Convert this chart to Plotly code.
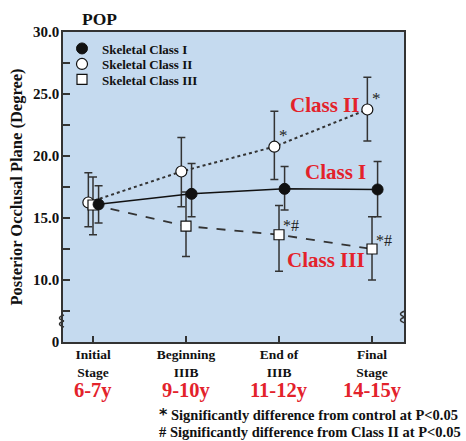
import plotly.graph_objects as go

# ---------------- data ----------------
stages = ["Initial<br>Stage", "Beginning<br>IIIB", "End of<br>IIIB", "Final<br>Stage"]
ages = ["6-7y", "9-10y", "11-12y", "14-15y"]

class1_mean = [16.1, 16.95, 17.35, 17.3]
class1_top = [17.6, 19.4, 19.15, 19.55]
class1_bottom = [14.6, 15.1, 15.65, 15.1]

class2_mean = [16.25, 18.75, 20.75, 23.75]
class2_top = [18.65, 21.5, 23.6, 26.35]
class2_bottom = [14.3, 15.9, 18.1, 21.2]

class3_mean = [16.05, 14.35, 13.65, 12.5]
class3_top = [18.3, 17.1, 16.0, 15.1]
class3_bottom = [13.65, 11.9, 10.7, 10.0]

sig_class2 = ["", "", "*", "*"]
sig_class3 = ["", "", "*#", "*#"]

y_tickvals = [5, 10, 15, 20, 25, 30]
y_ticktext = ["0", "10.0", "15.0", "20.0", "25.0", "30.0"]
y_minor = [7.5, 12.5, 17.5, 22.5, 27.5]

footnotes = [
    ("*", "Significantly difference from control at P<0.05"),
    ("#", "Significantly difference from Class II at P<0.05"),
]

# ---------------- layout helpers ----------------
W, H = 466, 441
L, R, T, B = 63, 62, 32, 99
PW, PH = W - L - R, H - T - B


def px(x):
    return (x - L) / PW


def py(y):
    return (H - B - y) / PH


SERIF = "Liberation Serif, Times New Roman, serif"
RED = "#e3222b"
DARK = "#333333"
BG = "#c5daef"

idx = list(range(len(stages)))


def errs(mean, top, bottom):
    return ([t - m for t, m in zip(top, mean)], [m - b for m, b in zip(mean, bottom)])


fig = go.Figure()

styles = {
    "I": dict(symbol="circle", size=11, color="#111", line=dict(color="#111", width=1)),
    "II": dict(symbol="circle", size=11, color="white", line=dict(color="#111", width=1.2)),
    "III": dict(symbol="square", size=10, color="white", line=dict(color="#111", width=1.2)),
}

# Class II (drawn first, underneath)
e_up, e_dn = errs(class2_mean, class2_top, class2_bottom)
fig.add_trace(go.Scatter(
    x=[i - 0.05 for i in idx], y=class2_mean, name="Skeletal Class II",
    mode="lines+markers", showlegend=False,
    line=dict(color=DARK, width=2, dash="dot"),
    marker=styles["II"],
    error_y=dict(type="data", symmetric=False, array=e_up, arrayminus=e_dn,
                 color=DARK, thickness=1.5, width=4),
))

# Class III
e_up, e_dn = errs(class3_mean, class3_top, class3_bottom)
fig.add_trace(go.Scatter(
    x=[i for i in idx], y=class3_mean, name="Skeletal Class III",
    mode="lines+markers", showlegend=False,
    line=dict(color=DARK, width=1.8, dash="dash"),
    marker=styles["III"],
    error_y=dict(type="data", symmetric=False, array=e_up, arrayminus=e_dn,
                 color=DARK, thickness=1.5, width=4),
))

# Class I (top)
e_up, e_dn = errs(class1_mean, class1_top, class1_bottom)
fig.add_trace(go.Scatter(
    x=[i + 0.06 for i in idx], y=class1_mean, name="Skeletal Class I",
    mode="lines+markers", showlegend=False,
    line=dict(color="#111", width=1.5),
    marker=styles["I"],
    error_y=dict(type="data", symmetric=False, array=e_up, arrayminus=e_dn,
                 color=DARK, thickness=1.5, width=4),
))

# legend entries (marker only), one legend per row for tight spacing
for key, lg in [("I", "legend"), ("II", "legend2"), ("III", "legend3")]:
    fig.add_trace(go.Scatter(
        x=[None], y=[None], mode="markers", name="Skeletal Class " + key,
        marker=styles[key], legend=lg, showlegend=True,
    ))

annotations = []

# significance marks
for i, s in enumerate(sig_class2):
    if s:
        annotations.append(dict(x=i - 0.05, y=class2_mean[i], xref="x", yref="y", text=s,
                                showarrow=False, xshift=9, yshift=11,
                                font=dict(family=SERIF, size=17, color="#222")))
for i, s in enumerate(sig_class3):
    if s:
        annotations.append(dict(x=i, y=class3_mean[i], xref="x", yref="y", text=s,
                                showarrow=False, xshift=12, yshift=9,
                                font=dict(family=SERIF, size=16, color="#222")))

# class labels
for txt, x, y in [("Class II", 324.7, 105), ("Class I", 335.5, 171.7), ("Class III", 326.3, 260)]:
    annotations.append(dict(x=px(x), y=py(y), xref="paper", yref="paper", text=txt,
                            showarrow=False, xanchor="center", yanchor="middle",
                            font=dict(family=SERIF, size=21, color=RED, weight="bold")))

# age labels
for i, a in enumerate(ages):
    annotations.append(dict(x=i, y=py(390), xref="x", yref="paper", text=a, showarrow=False,
                            xanchor="center", yanchor="middle",
                            font=dict(family=SERIF, size=20.5, color=RED, weight="bold")))

# title
annotations.append(dict(x=px(80), y=py(19), xref="paper", yref="paper", text="POP",
                        showarrow=False, xanchor="left", yanchor="middle",
                        font=dict(family=SERIF, size=17.5, color="#111", weight="bold")))

# footnotes (symbol + text in one annotation per line)
for (sym, txt), ypix in zip(footnotes, [414, 432]):
    sym_html = ('<span style="font-family:DejaVu Sans;font-size:16px">' + sym + '</span>'
                if sym == "*" else sym)
    annotations.append(dict(x=px(157), y=py(ypix), xref="paper", yref="paper",
                            text=sym_html + " " + txt,
                            showarrow=False, xanchor="left", yanchor="middle",
                            font=dict(family=SERIF, size=14.5, color="#111", weight="bold")))

# axis break marks
shapes = []
for ax_x, y0 in [(63, 315), (404, 311)]:
    for dy in (0, 6):
        yt, yb = y0 + dy, y0 + dy + 6
        path = "M {:.4f},{:.4f} Q {:.4f},{:.4f} {:.4f},{:.4f}".format(
            px(ax_x + 1), py(yt), px(ax_x - 8), py((yt + yb) / 2), px(ax_x + 1), py(yb))
        shapes.append(dict(type="path", path=path, xref="paper", yref="paper",
                           line=dict(color=DARK, width=1.5)))

legend_font = dict(family=SERIF, size=13, color="#111", weight="bold")
legend_common = dict(x=px(62), xanchor="left", yanchor="middle",
                     bgcolor="rgba(0,0,0,0)", itemwidth=30, font=legend_font)

fig.update_layout(
    width=W, height=H,
    margin=dict(l=L, r=R, t=T, b=B),
    paper_bgcolor="white", plot_bgcolor=BG,
    showlegend=True,
    legend=dict(y=py(48.5), **legend_common),
    legend2=dict(y=py(64), **legend_common),
    legend3=dict(y=py(79.5), **legend_common),
    annotations=annotations,
    shapes=shapes,
    xaxis=dict(
        range=[-0.3226, 3.344], tickvals=idx, ticktext=stages,
        ticks="inside", ticklen=6, tickwidth=1.5, tickcolor=DARK,
        showgrid=False, zeroline=False,
        showline=True, mirror=True, linecolor=DARK, linewidth=1.5,
        tickfont=dict(family=SERIF, size=13.5, color="#111", weight="bold"),
        ticklabelstandoff=-1,
    ),
    yaxis=dict(
        range=[5, 30], tickvals=y_tickvals, ticktext=y_ticktext,
        ticks="inside", ticklen=7, tickwidth=1.5, tickcolor=DARK,
        minor=dict(tickvals=y_minor, ticks="inside", ticklen=7, tickwidth=1.5, tickcolor=DARK,
                   showgrid=False),
        showgrid=False, zeroline=False,
        showline=True, mirror=True, linecolor=DARK, linewidth=1.5,
        tickfont=dict(family=SERIF, size=15, color="#111", weight="bold"),
        ticklabelstandoff=-1,
        title=dict(text="Posterior Occlusal Plane (Degree)", standoff=6,
                   font=dict(family=SERIF, size=16.5, color="#111", weight="bold")),
    ),
)

fig.write_html("out.html", config={"displayModeBar": False},
               post_script="document.body.style.margin='0';document.body.style.padding='0';")
